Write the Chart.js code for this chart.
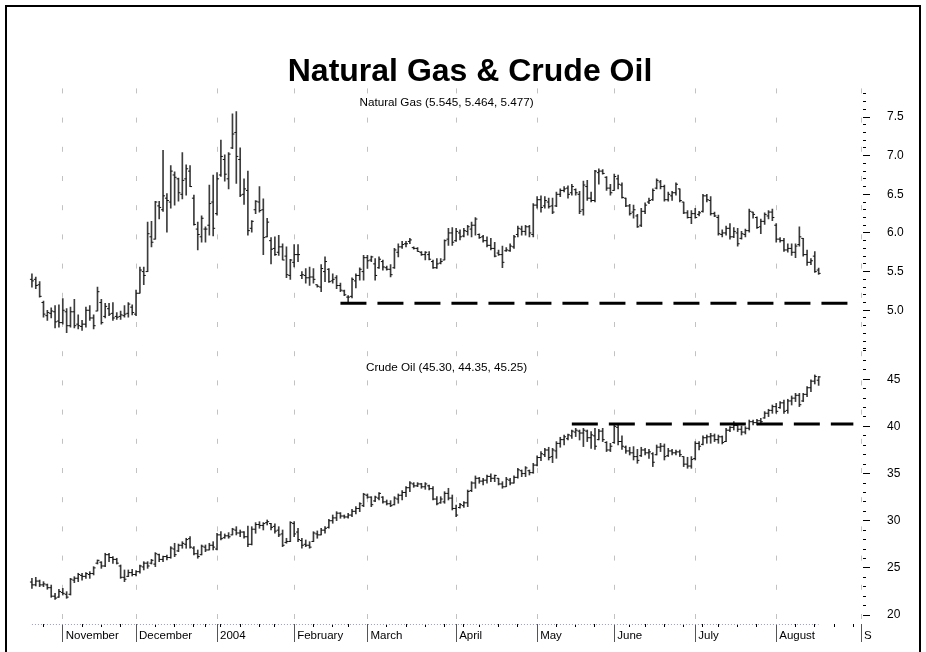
<!DOCTYPE html>
<html>
<head>
<meta charset="utf-8">
<title>Natural Gas &amp; Crude Oil</title>
<script src="https://cdn.jsdelivr.net/npm/chart.js@4.4.1/dist/chart.umd.min.js"></script>
<style>
  html, body { margin: 0; padding: 0; background: #fff; }
  #wrap { position: relative; width: 926px; height: 652px; overflow: hidden; }
  #frame { position: absolute; left: 5px; top: 5px; width: 912px; height: 660px; border: 2px solid #000; border-bottom: none; pointer-events: none; }
</style>
</head>
<body>
<div id="wrap">
  <canvas id="chart" width="926" height="652"></canvas>
  <div id="frame"></div>
</div>
<script>
const chartTitle = 'Natural Gas & Crude Oil';

// daily OHLC, 22 Oct 2003 .. 17 Aug 2004
const gasHigh = [
  5.47, 5.43, 5.37, 5.12, 5.00, 5.03, 5.06, 5.07, 5.15, 5.02,
  5.04, 5.14, 4.94, 4.87, 5.04, 5.06, 4.94, 5.30, 5.14, 5.09,
  5.09, 5.10, 4.97, 4.99, 5.06, 5.10, 5.07, 5.26, 5.56, 5.56,
  6.14, 6.15, 6.41, 6.41, 7.07, 6.51, 6.87, 6.79, 6.71, 7.04,
  6.88, 6.87, 6.49, 6.14, 6.22, 6.08, 6.62, 6.75, 6.78, 7.20,
  7.01, 7.04, 7.54, 7.57, 7.10, 6.70, 6.80, 6.16, 6.42, 6.60,
  6.44, 6.19, 5.94, 5.95, 5.97, 5.86, 5.82, 5.66, 5.85, 5.85,
  5.50, 5.54, 5.56, 5.54, 5.33, 5.59, 5.69, 5.54, 5.47, 5.45,
  5.35, 5.26, 5.19, 5.42, 5.47, 5.55, 5.71, 5.71, 5.70, 5.67,
  5.69, 5.65, 5.57, 5.59, 5.80, 5.86, 5.89, 5.89, 5.93, 5.82,
  5.81, 5.76, 5.76, 5.76, 5.65, 5.67, 5.67, 5.91, 6.06, 6.07,
  6.06, 6.04, 6.06, 6.10, 6.14, 6.20, 5.99, 5.97, 5.95, 5.93,
  5.88, 5.78, 5.83, 5.81, 5.86, 5.97, 6.09, 6.09, 6.10, 6.10,
  6.38, 6.47, 6.48, 6.47, 6.45, 6.45, 6.53, 6.57, 6.60, 6.61,
  6.63, 6.57, 6.54, 6.67, 6.68, 6.53, 6.81, 6.83, 6.82, 6.73,
  6.63, 6.76, 6.75, 6.65, 6.45, 6.37, 6.36, 6.24, 6.32, 6.39,
  6.45, 6.57, 6.70, 6.68, 6.62, 6.53, 6.54, 6.65, 6.57, 6.40,
  6.29, 6.29, 6.32, 6.28, 6.50, 6.50, 6.47, 6.27, 6.23, 6.04,
  6.09, 6.12, 6.07, 6.06, 6.02, 6.05, 6.31, 6.27, 6.21, 6.18,
  6.26, 6.29, 6.31, 6.12, 5.94, 5.93, 5.86, 5.86, 5.86, 6.08,
  5.93, 5.78, 5.67, 5.76, 5.545
];
const gasLow = [
  5.30, 5.28, 5.17, 4.91, 4.87, 4.90, 4.77, 4.78, 4.82, 4.71,
  4.78, 4.77, 4.76, 4.74, 4.78, 4.87, 4.76, 4.99, 4.82, 4.90,
  4.93, 4.87, 4.88, 4.88, 4.91, 4.91, 4.94, 4.93, 5.22, 5.33,
  5.50, 5.82, 5.92, 6.18, 6.28, 6.01, 6.32, 6.36, 6.41, 6.44,
  6.49, 6.60, 6.10, 5.78, 5.88, 5.88, 5.97, 5.96, 6.23, 6.73,
  6.67, 6.57, 7.09, 6.64, 6.47, 6.37, 5.97, 6.01, 6.25, 6.27,
  5.72, 5.95, 5.60, 5.71, 5.71, 5.65, 5.42, 5.40, 5.56, 5.63,
  5.41, 5.35, 5.32, 5.35, 5.30, 5.24, 5.37, 5.36, 5.35, 5.28,
  5.24, 5.19, 5.11, 5.16, 5.29, 5.39, 5.39, 5.54, 5.63, 5.39,
  5.54, 5.52, 5.52, 5.43, 5.54, 5.69, 5.80, 5.82, 5.86, 5.79,
  5.76, 5.71, 5.65, 5.65, 5.54, 5.54, 5.60, 5.65, 5.84, 5.84,
  5.89, 5.91, 5.95, 5.97, 5.95, 5.97, 5.93, 5.88, 5.82, 5.78,
  5.69, 5.71, 5.55, 5.76, 5.76, 5.80, 5.95, 5.97, 5.97, 5.95,
  5.95, 6.32, 6.27, 6.32, 6.32, 6.25, 6.34, 6.47, 6.53, 6.45,
  6.49, 6.49, 6.25, 6.23, 6.42, 6.40, 6.40, 6.63, 6.76, 6.55,
  6.49, 6.55, 6.57, 6.45, 6.34, 6.23, 6.19, 6.07, 6.08, 6.25,
  6.38, 6.42, 6.57, 6.57, 6.41, 6.41, 6.42, 6.49, 6.40, 6.25,
  6.19, 6.12, 6.19, 6.22, 6.27, 6.40, 6.23, 6.21, 5.97, 5.95,
  5.97, 5.92, 5.94, 5.83, 5.92, 5.95, 6.01, 6.19, 6.06, 5.99,
  6.11, 6.18, 6.16, 5.88, 5.88, 5.76, 5.75, 5.71, 5.68, 5.83,
  5.70, 5.58, 5.59, 5.49, 5.464
];
const gasOpen = [
  5.40, 5.40, 5.33, 5.10, 4.93, 4.96, 4.98, 4.86, 4.84, 4.98,
  4.80, 4.98, 4.82, 4.79, 4.82, 5.00, 4.90, 4.99, 5.10, 4.92,
  5.02, 4.96, 4.92, 4.92, 4.93, 4.96, 5.04, 4.95, 5.22, 5.50,
  5.50, 5.95, 5.92, 6.35, 6.30, 6.45, 6.40, 6.75, 6.70, 6.50,
  6.70, 6.80, 6.45, 6.05, 5.95, 6.05, 6.10, 6.40, 6.25, 6.75,
  6.95, 6.70, 7.10, 7.30, 6.95, 6.50, 6.55, 6.06, 6.30, 6.40,
  6.30, 5.95, 5.90, 5.80, 5.75, 5.82, 5.70, 5.45, 5.62, 5.72,
  5.45, 5.45, 5.42, 5.43, 5.33, 5.30, 5.50, 5.53, 5.38, 5.42,
  5.32, 5.25, 5.17, 5.18, 5.38, 5.45, 5.50, 5.68, 5.65, 5.60,
  5.55, 5.63, 5.55, 5.53, 5.55, 5.75, 5.82, 5.86, 5.89, 5.81,
  5.80, 5.75, 5.72, 5.72, 5.63, 5.55, 5.61, 5.65, 5.92, 6.00,
  5.90, 6.00, 5.96, 6.02, 6.05, 6.10, 5.98, 5.95, 5.90, 5.84,
  5.80, 5.74, 5.72, 5.77, 5.77, 5.82, 5.98, 6.05, 6.02, 6.08,
  5.98, 6.36, 6.43, 6.35, 6.40, 6.35, 6.35, 6.50, 6.55, 6.58,
  6.52, 6.56, 6.50, 6.30, 6.60, 6.45, 6.42, 6.78, 6.80, 6.72,
  6.58, 6.55, 6.70, 6.62, 6.45, 6.35, 6.27, 6.22, 6.10, 6.28,
  6.40, 6.43, 6.58, 6.66, 6.60, 6.43, 6.48, 6.52, 6.57, 6.40,
  6.26, 6.20, 6.25, 6.24, 6.28, 6.48, 6.42, 6.25, 6.20, 5.98,
  6.00, 6.06, 5.95, 6.00, 5.93, 5.98, 6.03, 6.27, 6.20, 6.08,
  6.15, 6.22, 6.27, 6.10, 5.92, 5.90, 5.78, 5.80, 5.75, 5.85,
  5.93, 5.72, 5.62, 5.70, 5.52
];
const gasClose = [
  5.38, 5.32, 5.18, 4.95, 4.97, 4.99, 4.85, 4.84, 5.00, 4.80,
  4.98, 4.80, 4.80, 4.82, 5.00, 4.90, 4.80, 5.24, 4.84, 5.05,
  4.95, 4.90, 4.91, 4.94, 4.95, 5.08, 4.97, 5.22, 5.52, 5.45,
  5.99, 5.88, 6.40, 6.33, 6.48, 6.42, 6.80, 6.72, 6.52, 6.68,
  6.83, 6.60, 6.11, 5.98, 6.19, 6.05, 6.38, 6.06, 6.70, 6.99,
  6.76, 7.02, 7.28, 6.99, 6.49, 6.57, 6.03, 6.15, 6.41, 6.29,
  5.94, 6.14, 5.79, 5.72, 5.82, 5.65, 5.46, 5.65, 5.72, 5.72,
  5.46, 5.42, 5.43, 5.40, 5.31, 5.54, 5.63, 5.37, 5.40, 5.32,
  5.26, 5.20, 5.17, 5.40, 5.45, 5.53, 5.68, 5.64, 5.69, 5.45,
  5.66, 5.56, 5.53, 5.46, 5.78, 5.82, 5.85, 5.86, 5.91, 5.80,
  5.76, 5.72, 5.75, 5.66, 5.55, 5.60, 5.63, 5.90, 6.00, 5.88,
  6.02, 5.95, 6.03, 6.08, 6.10, 6.18, 5.94, 5.90, 5.84, 5.80,
  5.70, 5.72, 5.62, 5.78, 5.83, 5.95, 6.06, 6.02, 6.08, 6.00,
  6.36, 6.43, 6.33, 6.42, 6.34, 6.27, 6.50, 6.55, 6.57, 6.50,
  6.60, 6.52, 6.28, 6.62, 6.45, 6.42, 6.80, 6.80, 6.77, 6.58,
  6.52, 6.73, 6.63, 6.46, 6.35, 6.25, 6.30, 6.08, 6.28, 6.36,
  6.42, 6.55, 6.68, 6.60, 6.43, 6.50, 6.52, 6.63, 6.42, 6.26,
  6.20, 6.25, 6.20, 6.26, 6.48, 6.43, 6.25, 6.22, 5.99, 6.00,
  6.06, 5.95, 6.02, 5.86, 5.99, 6.03, 6.28, 6.24, 6.07, 6.15,
  6.24, 6.27, 6.20, 5.92, 5.90, 5.78, 5.80, 5.75, 5.83, 5.95,
  5.72, 5.62, 5.64, 5.50, 5.477
];

const oilHigh = [
  23.89, 24.00, 23.71, 23.54, 23.29, 23.18, 22.30, 22.73, 22.83, 22.48,
  23.89, 24.07, 24.43, 24.43, 24.50, 24.60, 25.13, 25.84, 25.66, 26.55,
  26.55, 26.19, 26.02, 25.31, 24.78, 24.78, 24.85, 24.71, 25.31, 25.66,
  25.66, 25.91, 26.62, 26.47, 26.26, 26.37, 27.25, 27.61, 27.53, 27.78,
  28.14, 28.31, 27.25, 26.90, 27.43, 27.43, 27.61, 27.78, 28.67, 28.84,
  28.60, 28.74, 29.20, 29.37, 29.02, 28.84, 29.44, 29.37, 29.80, 29.90,
  29.80, 30.08, 29.73, 29.66, 29.37, 29.02, 28.14, 29.90, 29.90, 29.20,
  28.14, 27.96, 27.78, 28.84, 28.92, 29.20, 29.37, 30.15, 30.61, 30.96,
  30.86, 30.61, 30.78, 31.21, 31.49, 31.92, 32.91, 32.84, 32.55, 32.62,
  32.98, 32.55, 32.20, 32.13, 32.55, 32.84, 33.19, 33.61, 34.14, 34.04,
  34.04, 33.97, 34.04, 33.79, 33.61, 32.55, 32.55, 33.08, 33.44, 32.73,
  31.67, 31.85, 32.02, 33.26, 34.14, 34.75, 34.60, 34.50, 34.85, 34.96,
  34.85, 34.50, 34.14, 34.60, 34.50, 34.75, 35.56, 35.38, 35.74, 35.38,
  36.09, 36.87, 37.32, 37.68, 37.79, 37.68, 38.39, 38.85, 39.09, 39.20,
  39.62, 39.80, 39.62, 39.80, 39.62, 39.45, 39.80, 39.69, 39.80, 38.39,
  38.21, 40.15, 40.15, 38.99, 37.93, 37.79, 37.86, 37.57, 37.79, 37.68,
  37.57, 37.22, 38.03, 38.21, 38.14, 37.68, 37.57, 37.50, 37.50, 36.80,
  36.73, 36.80, 38.39, 38.39, 38.99, 39.09, 39.27, 39.20, 39.09, 38.99,
  39.80, 39.98, 40.51, 40.15, 40.05, 39.98, 40.68, 40.68, 40.75, 40.86,
  41.57, 41.82, 42.27, 42.45, 42.63, 42.80, 42.88, 43.23, 43.51, 43.51,
  43.51, 44.22, 44.93, 45.46, 45.30
];
const oilLow = [
  22.83, 23.08, 23.01, 23.01, 22.73, 21.88, 21.66, 21.88, 22.12, 21.77,
  22.12, 23.43, 23.54, 23.71, 23.89, 23.89, 24.25, 25.41, 24.95, 25.13,
  25.66, 25.48, 25.41, 23.89, 23.54, 24.07, 24.14, 24.14, 24.43, 24.78,
  24.95, 25.41, 25.13, 25.66, 25.66, 25.84, 26.02, 26.19, 26.72, 27.08,
  27.08, 27.08, 26.37, 26.02, 26.37, 26.72, 26.90, 26.90, 26.90, 27.96,
  28.14, 28.14, 28.49, 28.49, 28.31, 28.14, 27.25, 27.43, 28.67, 29.20,
  29.02, 29.55, 29.02, 28.67, 28.31, 27.25, 27.61, 27.78, 28.31, 27.78,
  27.08, 27.25, 27.08, 27.78, 28.14, 28.49, 28.67, 29.20, 29.73, 30.01,
  30.26, 30.26, 30.26, 30.43, 30.72, 30.96, 31.49, 32.38, 31.49, 32.02,
  32.20, 31.85, 31.67, 31.49, 31.67, 31.85, 32.20, 32.55, 33.08, 33.54,
  33.61, 33.44, 33.33, 33.26, 32.20, 31.67, 31.85, 31.85, 32.20, 31.14,
  30.43, 31.32, 31.42, 31.49, 33.08, 33.44, 33.97, 33.79, 33.97, 34.14,
  34.14, 33.79, 33.44, 33.61, 33.79, 33.97, 34.50, 34.67, 34.67, 34.85,
  35.03, 35.81, 36.37, 36.80, 36.44, 36.16, 36.62, 37.79, 38.03, 38.56,
  38.74, 38.92, 38.56, 37.86, 38.39, 37.68, 37.57, 38.56, 38.39, 37.33,
  37.33, 38.21, 38.03, 37.57, 37.15, 36.97, 36.44, 36.09, 36.80, 36.97,
  36.62, 35.74, 36.97, 37.33, 36.44, 36.80, 36.97, 36.97, 36.80, 35.74,
  35.56, 35.56, 36.44, 37.50, 38.03, 38.21, 38.21, 38.39, 38.21, 38.14,
  38.39, 39.45, 39.62, 39.45, 39.09, 39.20, 39.62, 40.15, 40.15, 40.33,
  40.86, 41.04, 41.39, 41.39, 41.92, 41.39, 41.39, 42.27, 42.63, 42.10,
  42.63, 43.16, 43.69, 44.50, 44.35
];
const oilOpen = [
  23.5, 23.2, 23.6, 23.2, 23.2, 22.9, 22.0, 21.9, 22.4, 22.2,
  22.2, 23.7, 23.9, 24.2, 24.1, 24.3, 24.4, 25.5, 25.6, 25.2,
  26.4, 26.1, 25.9, 25.2, 24.0, 24.1, 24.5, 24.3, 24.6, 25.1,
  25.5, 25.5, 25.4, 26.4, 25.9, 26.2, 26.1, 27.0, 26.8, 27.4,
  27.5, 28.1, 27.1, 26.5, 26.4, 27.2, 26.9, 27.4, 27.0, 28.5,
  28.2, 28.4, 28.5, 29.0, 28.7, 28.8, 28.3, 27.5, 29.1, 29.6,
  29.5, 29.8, 29.7, 29.4, 29.0, 28.6, 27.7, 27.8, 29.7, 28.8,
  27.9, 27.5, 27.4, 27.8, 28.6, 28.5, 29.0, 29.3, 30.0, 30.3,
  30.8, 30.5, 30.4, 30.6, 31.0, 31.3, 31.6, 32.7, 32.5, 32.1,
  32.4, 32.5, 32.0, 31.8, 31.7, 32.3, 32.7, 33.0, 33.5, 33.9,
  33.7, 33.9, 33.6, 33.7, 33.4, 32.3, 31.9, 32.0, 32.9, 32.4,
  31.3, 31.4, 31.6, 31.9, 33.2, 34.0, 34.5, 34.2, 34.3, 34.7,
  34.5, 34.5, 33.9, 33.6, 34.3, 34.0, 34.6, 35.3, 35.0, 35.3,
  35.1, 35.9, 36.7, 37.0, 37.5, 36.8, 37.4, 38.2, 38.6, 38.7,
  39.0, 39.4, 39.5, 39.3, 39.5, 38.8, 39.0, 38.6, 39.5, 38.3,
  37.5, 38.3, 39.9, 38.4, 37.8, 37.4, 37.2, 36.8, 36.9, 37.5,
  37.2, 37.1, 37.0, 37.8, 37.9, 36.9, 37.4, 37.2, 37.3, 36.8,
  36.0, 35.8, 36.6, 38.2, 38.1, 38.8, 38.9, 39.0, 38.6, 38.9,
  38.4, 39.6, 39.9, 40.1, 39.7, 39.4, 39.8, 40.5, 40.4, 40.6,
  40.9, 41.4, 41.7, 42.1, 42.0, 42.5, 41.7, 42.7, 43.0, 43.3,
  42.7, 43.4, 44.1, 44.8, 44.9
];
const oilClose = [
  23.2, 23.6, 23.2, 23.3, 22.9, 22.0, 21.8, 22.5, 22.3, 21.9,
  23.8, 23.9, 24.3, 24.1, 24.4, 24.4, 25.0, 25.8, 25.2, 26.4,
  26.1, 25.9, 25.5, 24.0, 23.8, 24.5, 24.3, 24.6, 25.2, 25.5,
  25.2, 25.8, 26.5, 25.9, 26.2, 26.1, 27.1, 26.4, 27.4, 27.6,
  28.0, 27.2, 26.5, 26.2, 27.3, 26.9, 27.4, 27.2, 28.5, 28.1,
  28.4, 28.3, 29.1, 28.7, 28.8, 28.3, 27.5, 29.1, 29.6, 29.5,
  29.7, 29.9, 29.3, 28.9, 28.5, 27.4, 27.8, 29.8, 28.6, 28.0,
  27.4, 27.4, 27.2, 28.7, 28.5, 29.0, 29.2, 30.0, 30.3, 30.8,
  30.5, 30.4, 30.6, 31.0, 31.3, 31.8, 32.8, 32.5, 31.7, 32.5,
  32.9, 32.0, 31.8, 31.6, 32.4, 32.7, 33.0, 33.5, 34.0, 33.7,
  33.9, 33.6, 33.9, 33.4, 32.3, 31.8, 32.3, 32.9, 32.4, 31.3,
  30.6, 31.7, 31.9, 33.1, 34.0, 34.5, 34.2, 34.3, 34.7, 34.5,
  34.8, 33.9, 33.6, 34.4, 34.0, 34.6, 35.4, 35.0, 35.6, 35.1,
  35.9, 36.7, 37.1, 37.5, 36.7, 37.5, 38.2, 38.6, 38.9, 39.1,
  39.5, 39.6, 39.3, 39.6, 38.8, 39.1, 37.9, 39.5, 38.6, 37.5,
  37.9, 40.0, 38.4, 37.9, 37.4, 37.2, 36.8, 36.4, 37.5, 37.2,
  37.3, 36.2, 37.8, 37.9, 36.8, 37.4, 37.2, 37.3, 37.0, 36.0,
  35.8, 36.5, 38.2, 37.9, 38.8, 38.9, 39.0, 38.6, 38.9, 38.3,
  39.6, 39.9, 40.1, 39.7, 39.4, 39.8, 40.5, 40.4, 40.6, 40.5,
  41.4, 41.7, 42.1, 41.6, 42.5, 41.6, 42.7, 43.0, 43.3, 42.3,
  43.4, 44.1, 44.8, 45.3, 45.25
];

const gasSupport = { level: 5.09, from: '2004-02-19', to: '2004-08-27' };
const oilSupport = { level: 40.25, from: '2004-05-14', to: '2004-08-30' };

const monthLabels = ['November', 'December', '2004', 'February', 'March', 'April', 'May', 'June', 'July', 'August', 'S'];
const gasMajorTicks = [5.0, 5.5, 6.0, 6.5, 7.0, 7.5];
const oilMajorTicks = [20, 25, 30, 35, 40, 45];
const holidays = ['2003-11-27', '2003-12-25', '2003-12-26', '2004-01-01', '2004-01-19', '2004-02-16',
  '2004-04-09', '2004-05-31', '2004-06-11', '2004-07-05'];

const FONT = "'Liberation Sans', Arial, sans-serif";

function tradingDays(start, end) {
  const days = [];
  const d = new Date(start + 'T00:00:00Z');
  const stop = new Date(end + 'T00:00:00Z');
  while (d <= stop) {
    const wd = d.getUTCDay();
    const iso = d.toISOString().slice(0, 10);
    if (wd !== 0 && wd !== 6 && !holidays.includes(iso)) days.push(iso);
    d.setUTCDate(d.getUTCDate() + 1);
  }
  return days;
}

const dates = tradingDays('2003-10-22', '2004-09-01');

const monthStart = {};
const weekStart = {};
let m = 0;
dates.forEach((d, i) => {
  if (i === 0) return;
  if (d.slice(5, 7) !== dates[i - 1].slice(5, 7)) monthStart[i] = monthLabels[m++];
  if (new Date(d).getUTCDay() < new Date(dates[i - 1]).getUTCDay()) weekStart[i] = true;
});

function supportLine(s) {
  return dates.map(d => (d >= s.from && d <= s.to) ? s.level : null);
}

function minorTicks(lo, hi, step) {
  const out = [];
  for (let k = Math.round(lo / step); k <= Math.round(hi / step); k++) out.push({ value: +(k * step).toFixed(4) });
  return out;
}

const isMajor = (v, list) => list.some(t => Math.abs(t - v) < 1e-6);

function rangeBars(high, low, axis) {
  return {
    type: 'bar',
    data: low.map((l, i) => [l, high[i]]),
    yAxisID: axis,
    backgroundColor: '#3c3c3c',
    borderWidth: 0,
    barThickness: 1,
    grouped: false,
    order: 3
  };
}

function sideTicks(values, axis, rotation) {
  return {
    type: 'line',
    data: values,
    yAxisID: axis,
    showLine: false,
    pointStyle: 'dash',
    pointRadius: 2,
    pointRotation: rotation,
    pointBorderColor: '#111',
    pointBackgroundColor: '#111',
    pointBorderWidth: 1,
    order: 2
  };
}

function dashedLevel(s, axis) {
  return {
    type: 'line',
    data: supportLine(s),
    yAxisID: axis,
    borderColor: '#000',
    borderWidth: 3,
    borderDash: [26, 11],
    borderCapStyle: 'butt',
    pointRadius: 0,
    spanGaps: false,
    order: 1
  };
}

const overlay = {
  id: 'overlay',
  afterDatasetsDraw(chart) {
    const { ctx, chartArea, scales } = chart;
    ctx.save();
    ctx.strokeStyle = '#9a9ad6';
    ctx.lineWidth = 1;
    ctx.setLineDash([1, 2]);
    ctx.beginPath();
    ctx.moveTo(scales.x.getPixelForValue(0), chartArea.bottom + 0.5);
    ctx.lineTo(scales.x.getPixelForValue(gasClose.length - 1), chartArea.bottom + 0.5);
    ctx.stroke();
    ctx.restore();
  },
  afterDraw(chart) {
    const { ctx, chartArea, scales } = chart;
    const g = gasClose.length - 1;
    const o = oilClose.length - 1;
    const gasCaption = `Natural Gas (${gasHigh[g].toFixed(3)}, ${gasLow[g].toFixed(3)}, ${gasClose[g].toFixed(3)})`;
    const oilCaption = `Crude Oil (${oilHigh[o].toFixed(2)}, ${oilLow[o].toFixed(2)}, ${oilClose[o].toFixed(2)})`;
    const mid = (chartArea.left + chartArea.right) / 2;
    ctx.save();
    ctx.fillStyle = '#000';
    ctx.textAlign = 'center';
    ctx.textBaseline = 'alphabetic';
    ctx.font = 'bold 32px ' + FONT;
    ctx.fillText(chartTitle, 470, 81);
    ctx.textBaseline = 'middle';
    ctx.font = '11.7px ' + FONT;
    ctx.fillText(gasCaption, mid, scales.yGas.top + 14);
    ctx.fillText(oilCaption, mid, scales.yOil.top + 19);
    ctx.restore();
  }
};

document.addEventListener('DOMContentLoaded', () => {
  new Chart(document.getElementById('chart'), {
    type: 'bar',
    data: {
      labels: dates,
      datasets: [
        rangeBars(gasHigh, gasLow, 'yGas'),
        sideTicks(gasOpen, 'yGas', 180),
        sideTicks(gasClose, 'yGas', 0),
        dashedLevel(gasSupport, 'yGas'),
        rangeBars(oilHigh, oilLow, 'yOil'),
        sideTicks(oilOpen, 'yOil', 180),
        sideTicks(oilClose, 'yOil', 0),
        dashedLevel(oilSupport, 'yOil')
      ]
    },
    options: {
      responsive: false,
      maintainAspectRatio: false,
      animation: false,
      events: [],
      layout: { padding: { left: 30, right: 0, top: 88.4, bottom: 0 } },
      plugins: {
        legend: { display: false },
        title: { display: false },
        tooltip: { enabled: false }
      },
      scales: {
        x: {
          type: 'category',
          offset: true,
          grid: {
            offset: false,
            drawOnChartArea: true,
            lineWidth: 1,
            color: ctx => monthStart[ctx.index] ? '#c2c2c2' : 'rgba(0,0,0,0)',
            tickLength: 18,
            tickWidth: 1,
            tickColor: ctx => monthStart[ctx.index] ? '#555' : (weekStart[ctx.index] ? '#000' : 'rgba(0,0,0,0)'),
            tickBorderDash: ctx => monthStart[ctx.index] ? [] : [3, 40]
          },
          border: { display: false, dash: [5, 24.2] },
          ticks: {
            autoSkip: false,
            maxRotation: 0,
            minRotation: 0,
            align: 'start',
            labelOffset: 3,
            padding: -13,
            color: '#000',
            font: { family: FONT, size: 11.5 },
            callback: (v, i) => monthStart[i] || ''
          },
          afterFit: s => { s.height = 28; }
        },
        yGas: {
          type: 'linear',
          position: 'right',
          stack: 'panels',
          stackWeight: 260.5,
          bounds: 'data',
          min: 4.5,
          max: 7.87,
          afterBuildTicks: s => { s.ticks = minorTicks(4.5, 7.8, 0.1); },
          grid: {
            drawOnChartArea: false,
            tickLength: 7,
            tickColor: '#000',
            tickBorderDash: ctx => isMajor(ctx.tick.value, gasMajorTicks) ? [] : [3, 20]
          },
          border: { display: false },
          ticks: {
            autoSkip: false,
            padding: 17,
            color: '#000',
            font: { family: FONT, size: 12 },
            callback: v => isMajor(v, gasMajorTicks) ? v.toFixed(1) : ''
          },
          afterFit: s => { s.width = 63; }
        },
        yOil: {
          type: 'linear',
          position: 'right',
          stack: 'panels',
          stackWeight: 275.1,
          bounds: 'data',
          min: 19.05,
          max: 48.22,
          afterBuildTicks: s => { s.ticks = minorTicks(20, 48, 1); },
          grid: {
            drawOnChartArea: false,
            tickLength: 7,
            tickColor: '#000',
            tickBorderDash: ctx => isMajor(ctx.tick.value, oilMajorTicks) ? [] : [3, 20]
          },
          border: { display: false },
          ticks: {
            autoSkip: false,
            padding: 17,
            color: '#000',
            font: { family: FONT, size: 12 },
            callback: v => isMajor(v, oilMajorTicks) ? String(v) : ''
          },
          afterFit: s => { s.width = 63; }
        }
      }
    },
    plugins: [overlay]
  });
});
</script>
</body>
</html>
